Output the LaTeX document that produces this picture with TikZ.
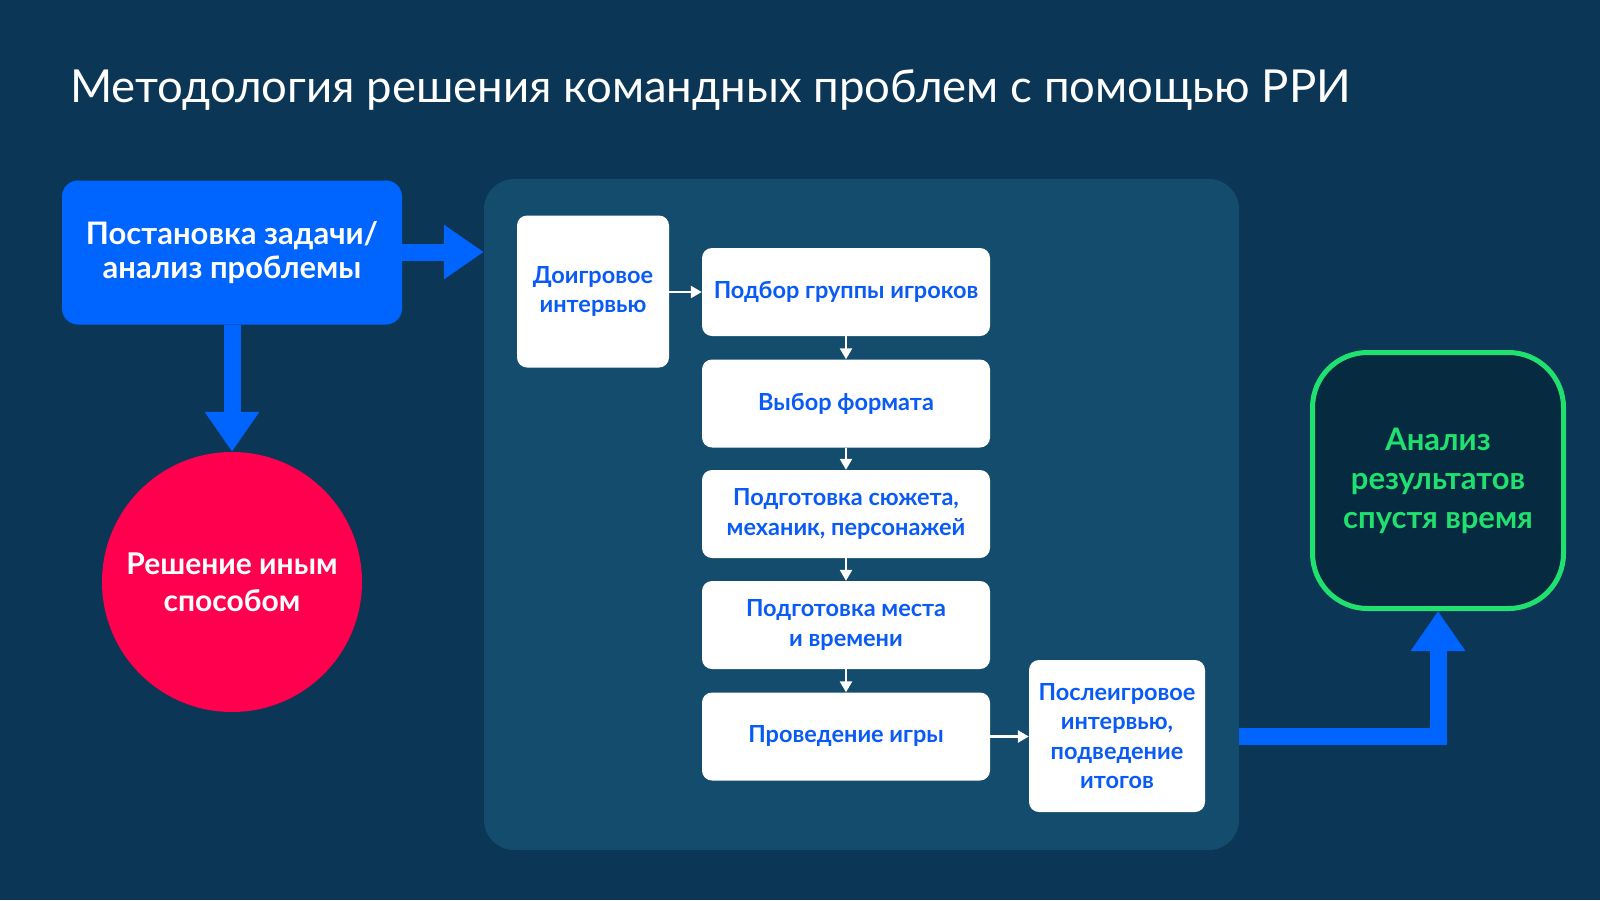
\documentclass[tikz,border=0pt]{standalone}
\usepackage{fontspec}
\setmainfont{Lato}
\usetikzlibrary{arrows.meta}
\definecolor{bgc}{HTML}{0B3655}
\definecolor{panelc}{HTML}{134C6C}
\definecolor{bluec}{HTML}{0064FF}
\definecolor{redc}{HTML}{FF004F}
\definecolor{greenc}{HTML}{20E070}
\definecolor{greenfill}{HTML}{062A40}
\definecolor{btext}{HTML}{0A5BF5}
\tikzset{
  whitebox/.style={fill=white, rounded corners=10pt, align=center, text=btext,
    font=\fontsize{23.5}{29.5}\selectfont\bfseries, inner sep=0pt},
  bigarrow/.style={draw=bluec, line width=17pt,
    -{Triangle[length=40pt,width=52pt]}},
  smallarrow/.style={draw=white, line width=2.5pt,
    -{Triangle[length=11pt,width=12pt]}},
}
\begin{document}
\begin{tikzpicture}[x=1pt,y=-1pt]
\useasboundingbox (0,0) rectangle (1600,900);
\fill[bgc] (0,0) rectangle (1600,900);
% title
\node[anchor=base west, inner sep=0pt, text=white, font=\fontsize{45.5}{56}\selectfont] (title) at (70,102) {Методология решения командных проблем с помощью РРИ};
% panel
\node[fill=panelc, rounded corners=30pt, minimum width=755pt, minimum height=671pt, inner sep=0pt] (panel) at (861.5,514.5) {};
% blue box
\node[fill=bluec, rounded corners=16pt, minimum width=340pt, minimum height=144pt, inner sep=0pt,
  text=white, align=center, font=\fontsize{31}{34}\selectfont\bfseries] (task) at (232,252.5) {Постановка задачи/\\анализ проблемы};
% red circle
\node[circle, fill=redc, minimum size=260pt, inner sep=0pt, text=white, align=center,
  font=\fontsize{30}{37}\selectfont\bfseries] (other) at (232,582) {Решение иным\\способом};
% white boxes
\node[whitebox, minimum width=152pt, minimum height=152pt] (pre) at (593,291.5) {Доигровое\\интервью};
\node[whitebox, minimum width=288pt, minimum height=88pt] (group) at (846,292) {Подбор группы игроков};
\node[whitebox, minimum width=288pt, minimum height=88pt] (format) at (846,403.5) {Выбор формата};
\node[whitebox, minimum width=288pt, minimum height=88pt] (plot) at (846,514) {Подготовка сюжета,\\механик, персонажей};
\node[whitebox, minimum width=288pt, minimum height=88pt] (place) at (846,625) {Подготовка места\\и времени};
\node[whitebox, minimum width=288pt, minimum height=88pt] (game) at (846,736.5) {Проведение игры};
\node[whitebox, minimum width=176pt, minimum height=152pt] (post) at (1117,736) {Послеигровое\\интервью,\\подведение\\итогов};
% green box
\node[draw=greenc, line width=5pt, fill=greenfill, rounded corners=55pt, minimum width=251pt, minimum height=256pt,
  inner sep=0pt, text=greenc, align=center, font=\fontsize{31}{39}\selectfont\bfseries] (green) at (1438,480.5) {Анализ\\результатов\\спустя время};
% big arrows
\draw[bigarrow] (task.east |- 0,252) -- (panel.west |- 0,252);
\draw[bigarrow] (task.south) -- (other.north);
\draw[bigarrow] (game -| panel.east) -| (green.south);
% small arrows
\draw[smallarrow] (pre.east |- group) -- (group.west);
\draw[smallarrow] (group.south) -- (format.north);
\draw[smallarrow] (format.south) -- (plot.north);
\draw[smallarrow] (plot.south) -- (place.north);
\draw[smallarrow] (place.south) -- (game.north);
\draw[smallarrow] (game.east) -- (post.west |- game);
\end{tikzpicture}
\end{document}
